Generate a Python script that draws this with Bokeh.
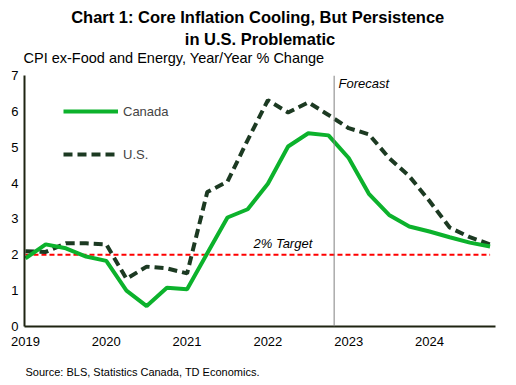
from bokeh.plotting import figure
from bokeh.models import Range1d, FixedTicker, Label, Span, Legend, LegendItem, Title
from bokeh.embed import file_html
from bokeh.resources import INLINE

quarters = ["2019Q1", "2019Q2", "2019Q3", "2019Q4",
            "2020Q1", "2020Q2", "2020Q3", "2020Q4",
            "2021Q1", "2021Q2", "2021Q3", "2021Q4",
            "2022Q1", "2022Q2", "2022Q3", "2022Q4",
            "2023Q1", "2023Q2", "2023Q3", "2023Q4",
            "2024Q1", "2024Q2", "2024Q3", "2024Q4"]
canada = [1.90, 2.29, 2.18, 1.95,
          1.83, 1.00, 0.57, 1.08,
          1.04, 2.04, 3.04, 3.27,
          3.98, 5.02, 5.39, 5.33,
          4.70, 3.70, 3.11, 2.79,
          2.65, 2.49, 2.34, 2.23]
us = [2.10, 2.08, 2.32, 2.32,
      2.29, 1.33, 1.67, 1.62,
      1.48, 3.75, 4.04, 5.20,
      6.31, 5.97, 6.25, 5.90,
      5.53, 5.36, 4.70, 4.19,
      3.50, 2.76, 2.49, 2.29]
year_ticks = [2019, 2020, 2021, 2022, 2023, 2024]
y_ticks = [0, 1, 2, 3, 4, 5, 6, 7]
target = 2.0
forecast_start = 2022.82

x = [int(q[:4]) + (int(q[-1]) - 1) / 4 for q in quarters]

FONT = "Liberation Sans"

p = figure(width=516, height=385, output_backend="svg", toolbar_location=None, title=None,
           x_range=Range1d(2018.988, 2024.817), y_range=Range1d(0, 7),
           min_border_left=24, min_border_right=21, min_border_top=75, min_border_bottom=0)
p.outline_line_color = None
p.xgrid.visible = False
p.ygrid.visible = False

for ax in (p.xaxis[0], p.yaxis[0]):
    ax.axis_line_color = "#1f2412"
    ax.axis_line_width = 2
    ax.major_tick_line_color = None
    ax.minor_tick_line_color = None
    ax.major_tick_in = 0
    ax.major_tick_out = 0
    ax.major_label_text_font = FONT
    ax.major_label_text_font_size = "13px"
    ax.major_label_text_color = "#000000"
p.xaxis[0].ticker = FixedTicker(ticks=year_ticks)
p.yaxis[0].ticker = FixedTicker(ticks=y_ticks)
p.xaxis[0].major_label_standoff = 10
p.yaxis[0].major_label_standoff = 6

# forecast divider
p.add_layout(Span(location=forecast_start, dimension="height", line_color="#808080", line_width=1))

# target line
p.line([x[0], x[-1]], [target, target], line_color="#ff0000", line_width=2, line_dash="5 3")

r_us = p.line(x, us, line_color="#1c3a22", line_width=4, line_dash="9 5")
r_ca = p.line(x, canada, line_color="#0cb22c", line_width=4)

legend = Legend(items=[LegendItem(label="Canada", renderers=[r_ca]),
                       LegendItem(label="U.S.", renderers=[r_us])],
                location=(39, 162), orientation="vertical",
                glyph_width=55, glyph_height=20, label_height=20, spacing=23,
                padding=0, margin=0, label_standoff=5,
                label_text_font=FONT, label_text_font_size="13px",
                border_line_color=None, background_fill_alpha=0)
p.add_layout(legend)

def px_to_x(px):
    return 2019 + (px - 25) / 80.8

def py_to_y(py):
    return (327 - py) / 36.0

def lab(text, px, py, size, style="normal"):
    p.add_layout(Label(x=px_to_x(px), y=py_to_y(py), text=text, text_font=FONT,
                       text_font_size=size, text_font_style=style, text_align="left",
                       text_baseline="middle", text_color="#000000"))

lab("Forecast", 338, 83, "13px", "italic")
lab("2% Target", 253, 244, "13px", "italic")

def spacer(side, standoff):
    p.add_layout(Title(text=" ", text_font=FONT, text_font_size="2px", standoff=standoff), side)

# titles stacked above the frame (first added is closest to the frame)
spacer("above", 6)
p.add_layout(Title(text="CPI ex-Food and Energy, Year/Year % Change", align="left", offset=-1,
                   standoff=0, text_font=FONT, text_font_size="14.5px", text_font_style="normal",
                   text_color="#000000"), "above")
p.add_layout(Title(text="in U.S. Problematic", align="center",
                   standoff=0, text_font=FONT, text_font_size="16.5px", text_font_style="bold",
                   text_color="#000000"), "above")
p.add_layout(Title(text="Chart 1: Core Inflation  Cooling, But Persistence", align="center",
                   standoff=4, text_font=FONT, text_font_size="16.5px", text_font_style="bold",
                   text_color="#000000"), "above")

# below: axis, spacer, source
spacer("below", 4)
p.add_layout(Title(text="Source: BLS, Statistics Canada, TD Economics.", align="left", offset=1,
                   standoff=15, text_font=FONT, text_font_size="11px", text_font_style="normal",
                   text_color="#000000"), "below")

open("out.html", "w").write(file_html(p, INLINE))
